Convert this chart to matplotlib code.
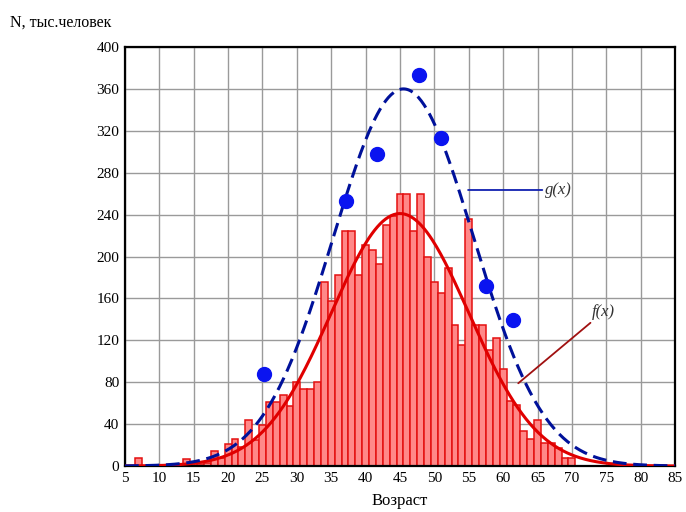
import numpy as np
import matplotlib.pyplot as plt

# Возраст (годы) и численность, тыс. человек (гистограмма)
ages = np.arange(5, 86)
counts_by_age = {
    7: 8, 14: 7, 15: 1, 16: 2, 17: 3, 18: 14, 19: 8, 20: 21, 21: 26, 22: 18,
    23: 44, 24: 25, 25: 39, 26: 61, 27: 61, 28: 68, 29: 57, 30: 80, 31: 74,
    32: 74, 33: 80, 34: 176, 35: 158, 36: 182, 37: 224, 38: 224, 39: 182,
    40: 211, 41: 206, 42: 193, 43: 230, 44: 239, 45: 260, 46: 260, 47: 224,
    48: 260, 49: 200, 50: 176, 51: 165, 52: 189, 53: 135, 54: 116, 55: 236,
    56: 135, 57: 135, 58: 111, 59: 122, 60: 93, 61: 62, 62: 58, 63: 33,
    64: 26, 65: 44, 66: 22, 67: 22, 68: 17, 69: 8, 70: 8,
}
counts = np.array([counts_by_age.get(a, 0) for a in ages])

# точки (синие)
dots_x = [25.2, 37.1, 41.6, 47.8, 51.0, 57.5, 61.5]
dots_y = [88, 253, 298, 373, 313, 172, 139]

# параметры кривых f(x) и g(x) (нормальное распределение)
f_amp, f_mu, f_sigma = 241, 45.0, 10.0
g_amp, g_mu, g_sigma = 360, 45.5, 10.2

x_ticks = np.arange(5, 90, 5)
y_ticks = np.arange(0, 440, 40)


def gauss(x, a, mu, s):
    return a * np.exp(-(x - mu) ** 2 / (2 * s ** 2))


plt.rcParams['font.family'] = ['Liberation Serif', 'DejaVu Serif']

fig = plt.figure(figsize=(6.86, 5.12), dpi=100)
ax = fig.add_axes([0.1822, 0.0898, 0.8018, 0.8184])

ax.bar(ages, counts, width=1.0, color='#ff8888', edgecolor='#e41010',
       linewidth=1.1, zorder=2)

xs = np.linspace(5, 85, 400)
ax.plot(xs, gauss(xs, f_amp, f_mu, f_sigma), color='#e00000', lw=2.2, zorder=3)
ax.plot(xs, gauss(xs, g_amp, g_mu, g_sigma), color='#00119a', lw=2.2,
        ls=(0, (4.5, 2.2)), zorder=4)
ax.plot(dots_x, dots_y, 'o', color='#0a14f0', markersize=10, zorder=5)

ax.set_xlim(5, 85)
ax.set_ylim(0, 400)
ax.set_xticks(x_ticks)
ax.set_yticks(y_ticks)
ax.grid(True, color='#9a9a9a', lw=1.0, zorder=0)
ax.set_axisbelow(True)
ax.tick_params(length=0, labelsize=11, pad=4)
for sp in ax.spines.values():
    sp.set_linewidth(1.6)
    sp.set_color('black')

# подписи кривых
ax.annotate('g(x)', xy=(54.9, 263.5), xytext=(66.1, 263.5), fontsize=12,
            style='italic', va='center', color='#333333',
            arrowprops=dict(arrowstyle='-', color='#1020b0', lw=1.3,
                            shrinkA=0, shrinkB=0))
ax.annotate('f(x)', xy=(62.2, 79), xytext=(72.9, 147), fontsize=12,
            style='italic', va='center', color='#333333',
            arrowprops=dict(arrowstyle='-', color='#a01010', lw=1.3,
                            shrinkA=0, shrinkB=0))

fig.text(0.015, 0.955, 'N, тыс.человек', fontsize=11.5, va='center')
ax.set_xlabel('Возраст', fontsize=12, labelpad=6)

plt.savefig('out.png', dpi=100)
